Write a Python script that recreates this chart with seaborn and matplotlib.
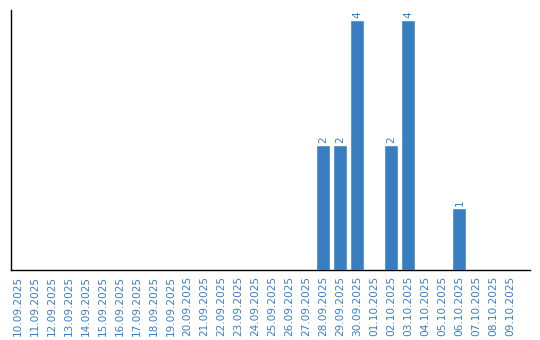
import matplotlib
matplotlib.use("Agg")
import matplotlib.pyplot as plt
import seaborn as sns
import pandas as pd

dates = ["10.09.2025", "11.09.2025", "12.09.2025", "13.09.2025", "14.09.2025",
         "15.09.2025", "16.09.2025", "17.09.2025", "18.09.2025", "19.09.2025",
         "20.09.2025", "21.09.2025", "22.09.2025", "23.09.2025", "24.09.2025",
         "25.09.2025", "26.09.2025", "27.09.2025", "28.09.2025", "29.09.2025",
         "30.09.2025", "01.10.2025", "02.10.2025", "03.10.2025", "04.10.2025",
         "05.10.2025", "06.10.2025", "07.10.2025", "08.10.2025", "09.10.2025"]
counts = [0, 0, 0, 0, 0, 0, 0, 0, 0, 0,
          0, 0, 0, 0, 0, 0, 0, 0, 2, 2,
          4, 0, 2, 4, 0, 0, 1, 0, 0, 0]

BLUE = "#3a7ec2"
sns.set_style("white")
plt.rcParams['font.family'] = ['DejaVu Sans']

df = pd.DataFrame({"date": dates, "count": counts})
fig = plt.figure(figsize=(5.4, 3.4), dpi=100)
ax = fig.add_axes([10.5/540, 1 - 270/340, 519.5/540, 260/340])
sns.barplot(data=df, x="date", y="count", color=BLUE, saturation=1, width=0.82, ax=ax)

for i, v in enumerate(counts):
    if v > 0:
        ax.text(i, v + 0.03, str(v), rotation=90, ha="center", va="bottom",
                color=BLUE, fontsize=7.6)

ax.set_ylim(0, 4.16)
ax.set_xlim(-0.41, 30.15)
ax.set_xlabel("")
ax.set_ylabel("")
ax.set_yticks([])
ax.tick_params(axis="x", length=0, pad=4, labelsize=7.6, labelcolor=BLUE, rotation=90)
for s in ["top", "right"]:
    ax.spines[s].set_visible(False)
for s in ["left", "bottom"]:
    ax.spines[s].set_color("black")
    ax.spines[s].set_linewidth(1)

fig.savefig("out.png", dpi=100)
